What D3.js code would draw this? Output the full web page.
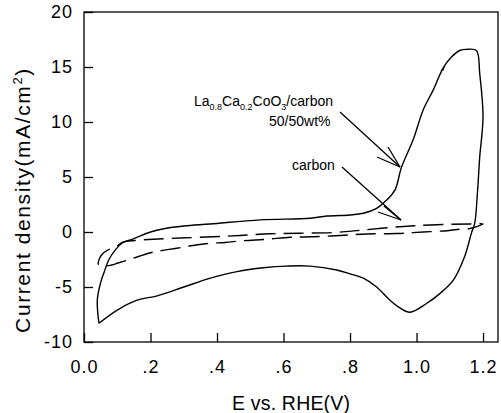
<!DOCTYPE html>
<html>
<head>
<meta charset="utf-8">
<script src="https://cdn.jsdelivr.net/npm/d3@7/dist/d3.min.js"></script>
<style>
  html, body { margin: 0; padding: 0; background: #fff; }
  svg { display: block; }
  text { font-family: "Liberation Sans", Arial, Helvetica, sans-serif; fill: #000; }
</style>
</head>
<body>
<svg id="chart" width="501" height="413"></svg>
<script>
// ---- Data ----
// La0.8Ca0.2CoO3/carbon 50/50wt% (solid), closed CV loop
const solidE = [0.045, 0.040, 0.050, 0.060, 0.075, 0.095, 0.115, 0.150, 0.200, 0.240, 0.300, 0.380,
  0.530, 0.680, 0.730, 0.800, 0.840, 0.880, 0.910, 0.935, 0.955, 0.990, 1.020, 1.050, 1.080, 1.105,
  1.130, 1.150, 1.180, 1.190, 1.200, 1.190, 1.183, 1.175, 1.165, 1.145, 1.110, 1.070, 1.030, 0.980,
  0.950, 0.920, 0.880, 0.840, 0.800, 0.760, 0.680, 0.610, 0.540, 0.460, 0.380, 0.300, 0.220, 0.160,
  0.100, 0.045];
const solidJ = [-8.3, -6.2, -4.6, -3.7, -2.5, -1.6, -1.0, -0.6, 0.0, 0.3, 0.55, 0.73,
  1.1, 1.25, 1.45, 1.55, 1.7, 2.15, 2.9, 3.8, 5.9, 8.4, 11.1, 12.9, 14.9, 15.9,
  16.5, 16.6, 16.5, 14.4, 10.5, 6.8, 3.5, 0.8, -0.1, -2.2, -4.4, -5.6, -6.5, -7.3,
  -6.9, -6.2, -5.0, -4.2, -3.8, -3.45, -3.1, -3.1, -3.25, -3.6, -4.2, -5.0, -5.8, -6.2,
  -7.1, -8.3];
// carbon (dashed), closed CV loop
const carbonE = [0.042, 0.047, 0.060, 0.081, 0.099, 0.118, 0.153, 0.208, 0.289, 0.388, 0.469, 0.559,
  0.650, 0.749, 0.839, 0.950, 1.041, 1.161, 1.200,
  1.161, 1.122, 1.092, 1.041, 0.989, 0.941, 0.851, 0.770, 0.689, 0.620, 0.549, 0.478, 0.424,
  0.379, 0.328, 0.279, 0.214, 0.168, 0.132, 0.102, 0.083, 0.060, 0.042];
const carbonJ = [-2.91, -2.36, -1.86, -1.50, -1.27, -0.91, -0.77, -0.66, -0.55, -0.43, -0.32, -0.16,
  -0.11, -0.05, 0.18, 0.48, 0.64, 0.73, 0.73,
  0.32, 0.23, 0.12, 0.03, -0.06, -0.14, -0.18, -0.32, -0.43, -0.48, -0.66, -0.79, -0.95,
  -1.03, -1.23, -1.48, -1.79, -2.18, -2.55, -2.82, -3.0, -3.09, -2.91];

const xTickValues = [0, 0.2, 0.4, 0.6, 0.8, 1.0, 1.2];
const xTickLabels = ["0.0", ".2", ".4", ".6", ".8", "1.0", "1.2"];
const yTickValues = [-10, -5, 0, 5, 10, 15, 20];
const yTickLabels = ["-10", "-5", "0", "5", "10", "15", "20"];

// ---- Layout ----
const svg = d3.select("#chart");
const L = 84, R = 498, T = 12, B = 342;
const x = d3.scaleLinear().domain([0, 1.245]).range([L, R]);
const y = d3.scaleLinear().domain([-10, 20]).range([B, T]);

// Frame
svg.append("rect")
  .attr("x", L).attr("y", T).attr("width", R - L).attr("height", B - T)
  .attr("fill", "none").attr("stroke", "#000").attr("stroke-width", 1.3);

// Axes
const xAxis = d3.axisBottom(x).tickValues(xTickValues)
  .tickFormat((d, i) => xTickLabels[i]).tickSize(-9).tickPadding(18);
const gx = svg.append("g").attr("transform", `translate(0,${B})`).call(xAxis);
gx.select(".domain").remove();
gx.selectAll(".tick line").attr("stroke", "#000").attr("stroke-width", 1.3);
gx.selectAll(".tick text").attr("font-size", 18).attr("letter-spacing", "1px")
  .attr("font-family", "Liberation Sans, Arial, sans-serif").attr("fill", "#000");

const yAxis = d3.axisLeft(y).tickValues(yTickValues)
  .tickFormat((d, i) => yTickLabels[i]).tickSize(-9).tickPadding(11);
const gy = svg.append("g").attr("transform", `translate(${L},0)`).call(yAxis);
gy.select(".domain").remove();
gy.selectAll(".tick line").attr("stroke", "#000").attr("stroke-width", 1.3);
gy.selectAll(".tick text").attr("font-size", 18).attr("letter-spacing", "1px")
  .attr("font-family", "Liberation Sans, Arial, sans-serif").attr("fill", "#000");

// Axis titles
svg.append("text").attr("x", 291).attr("y", 410).attr("text-anchor", "middle")
  .attr("font-size", 19.5).attr("textLength", 118).attr("lengthAdjust", "spacing")
  .text("E vs. RHE(V)");

const yt = svg.append("text")
  .attr("transform", "translate(30,200) rotate(-90)")
  .attr("text-anchor", "middle").attr("font-size", 21).attr("letter-spacing", "1.6px");
yt.append("tspan").text("Current density(mA/cm");
yt.append("tspan").attr("font-size", 13).attr("dy", -8).text("2");
yt.append("tspan").attr("dy", 8).text(")");

// Curves
const line = d3.line().x(d => x(d[0])).y(d => y(d[1])).curve(d3.curveCatmullRom.alpha(0.5));
const solidData = solidE.map((e, i) => [e, solidJ[i]]);
const carbonData = carbonE.map((e, i) => [e, carbonJ[i]]);

svg.append("path").datum(solidData).attr("d", line)
  .attr("fill", "none").attr("stroke", "#000").attr("stroke-width", 1.4)
  .attr("stroke-linejoin", "round");
svg.append("path").datum(carbonData).attr("d", line)
  .attr("fill", "none").attr("stroke", "#000").attr("stroke-width", 1.4)
  .attr("stroke-dasharray", "20,8");

// small direction mark on the solid curve
const mx = x(1.08), my = y(14.9);
svg.append("path")
  .attr("d", `M${mx - 2.5},${my + 2.5} L${mx + 2},${my - 3} L${mx + 0.5},${my + 2.5} Z`)
  .attr("fill", "#000");

// Annotations
const a1 = svg.append("text").attr("x", 194).attr("y", 106).attr("font-size", 14);
a1.append("tspan").text("La");
a1.append("tspan").attr("font-size", 9).attr("dy", 4).text("0.8");
a1.append("tspan").attr("dy", -4).text("Ca");
a1.append("tspan").attr("font-size", 9).attr("dy", 4).text("0.2");
a1.append("tspan").attr("dy", -4).text("CoO");
a1.append("tspan").attr("font-size", 9).attr("dy", 4).text("3");
a1.append("tspan").attr("dy", -4).text("/carbon");

svg.append("text").attr("x", 269).attr("y", 126).attr("font-size", 14).text("50/50wt%");
svg.append("text").attr("x", 292).attr("y", 170).attr("font-size", 14).text("carbon");

// Arrows (pixel positions of callouts)
function arrow(x1, y1, x2, y2, b1, b2) {
  const g = svg.append("g").attr("stroke", "#000").attr("stroke-width", 1.3).attr("fill", "none");
  g.append("line").attr("x1", x1).attr("y1", y1).attr("x2", x2).attr("y2", y2);
  g.append("line").attr("x1", b1[0]).attr("y1", b1[1]).attr("x2", x2).attr("y2", y2);
  g.append("line").attr("x1", b2[0]).attr("y1", b2[1]).attr("x2", x2).attr("y2", y2);
}
arrow(340, 112, 400, 167, [377, 157], [388, 147]);
arrow(342, 167, 401, 220, [378, 212], [384, 206]);
</script>
</body>
</html>
